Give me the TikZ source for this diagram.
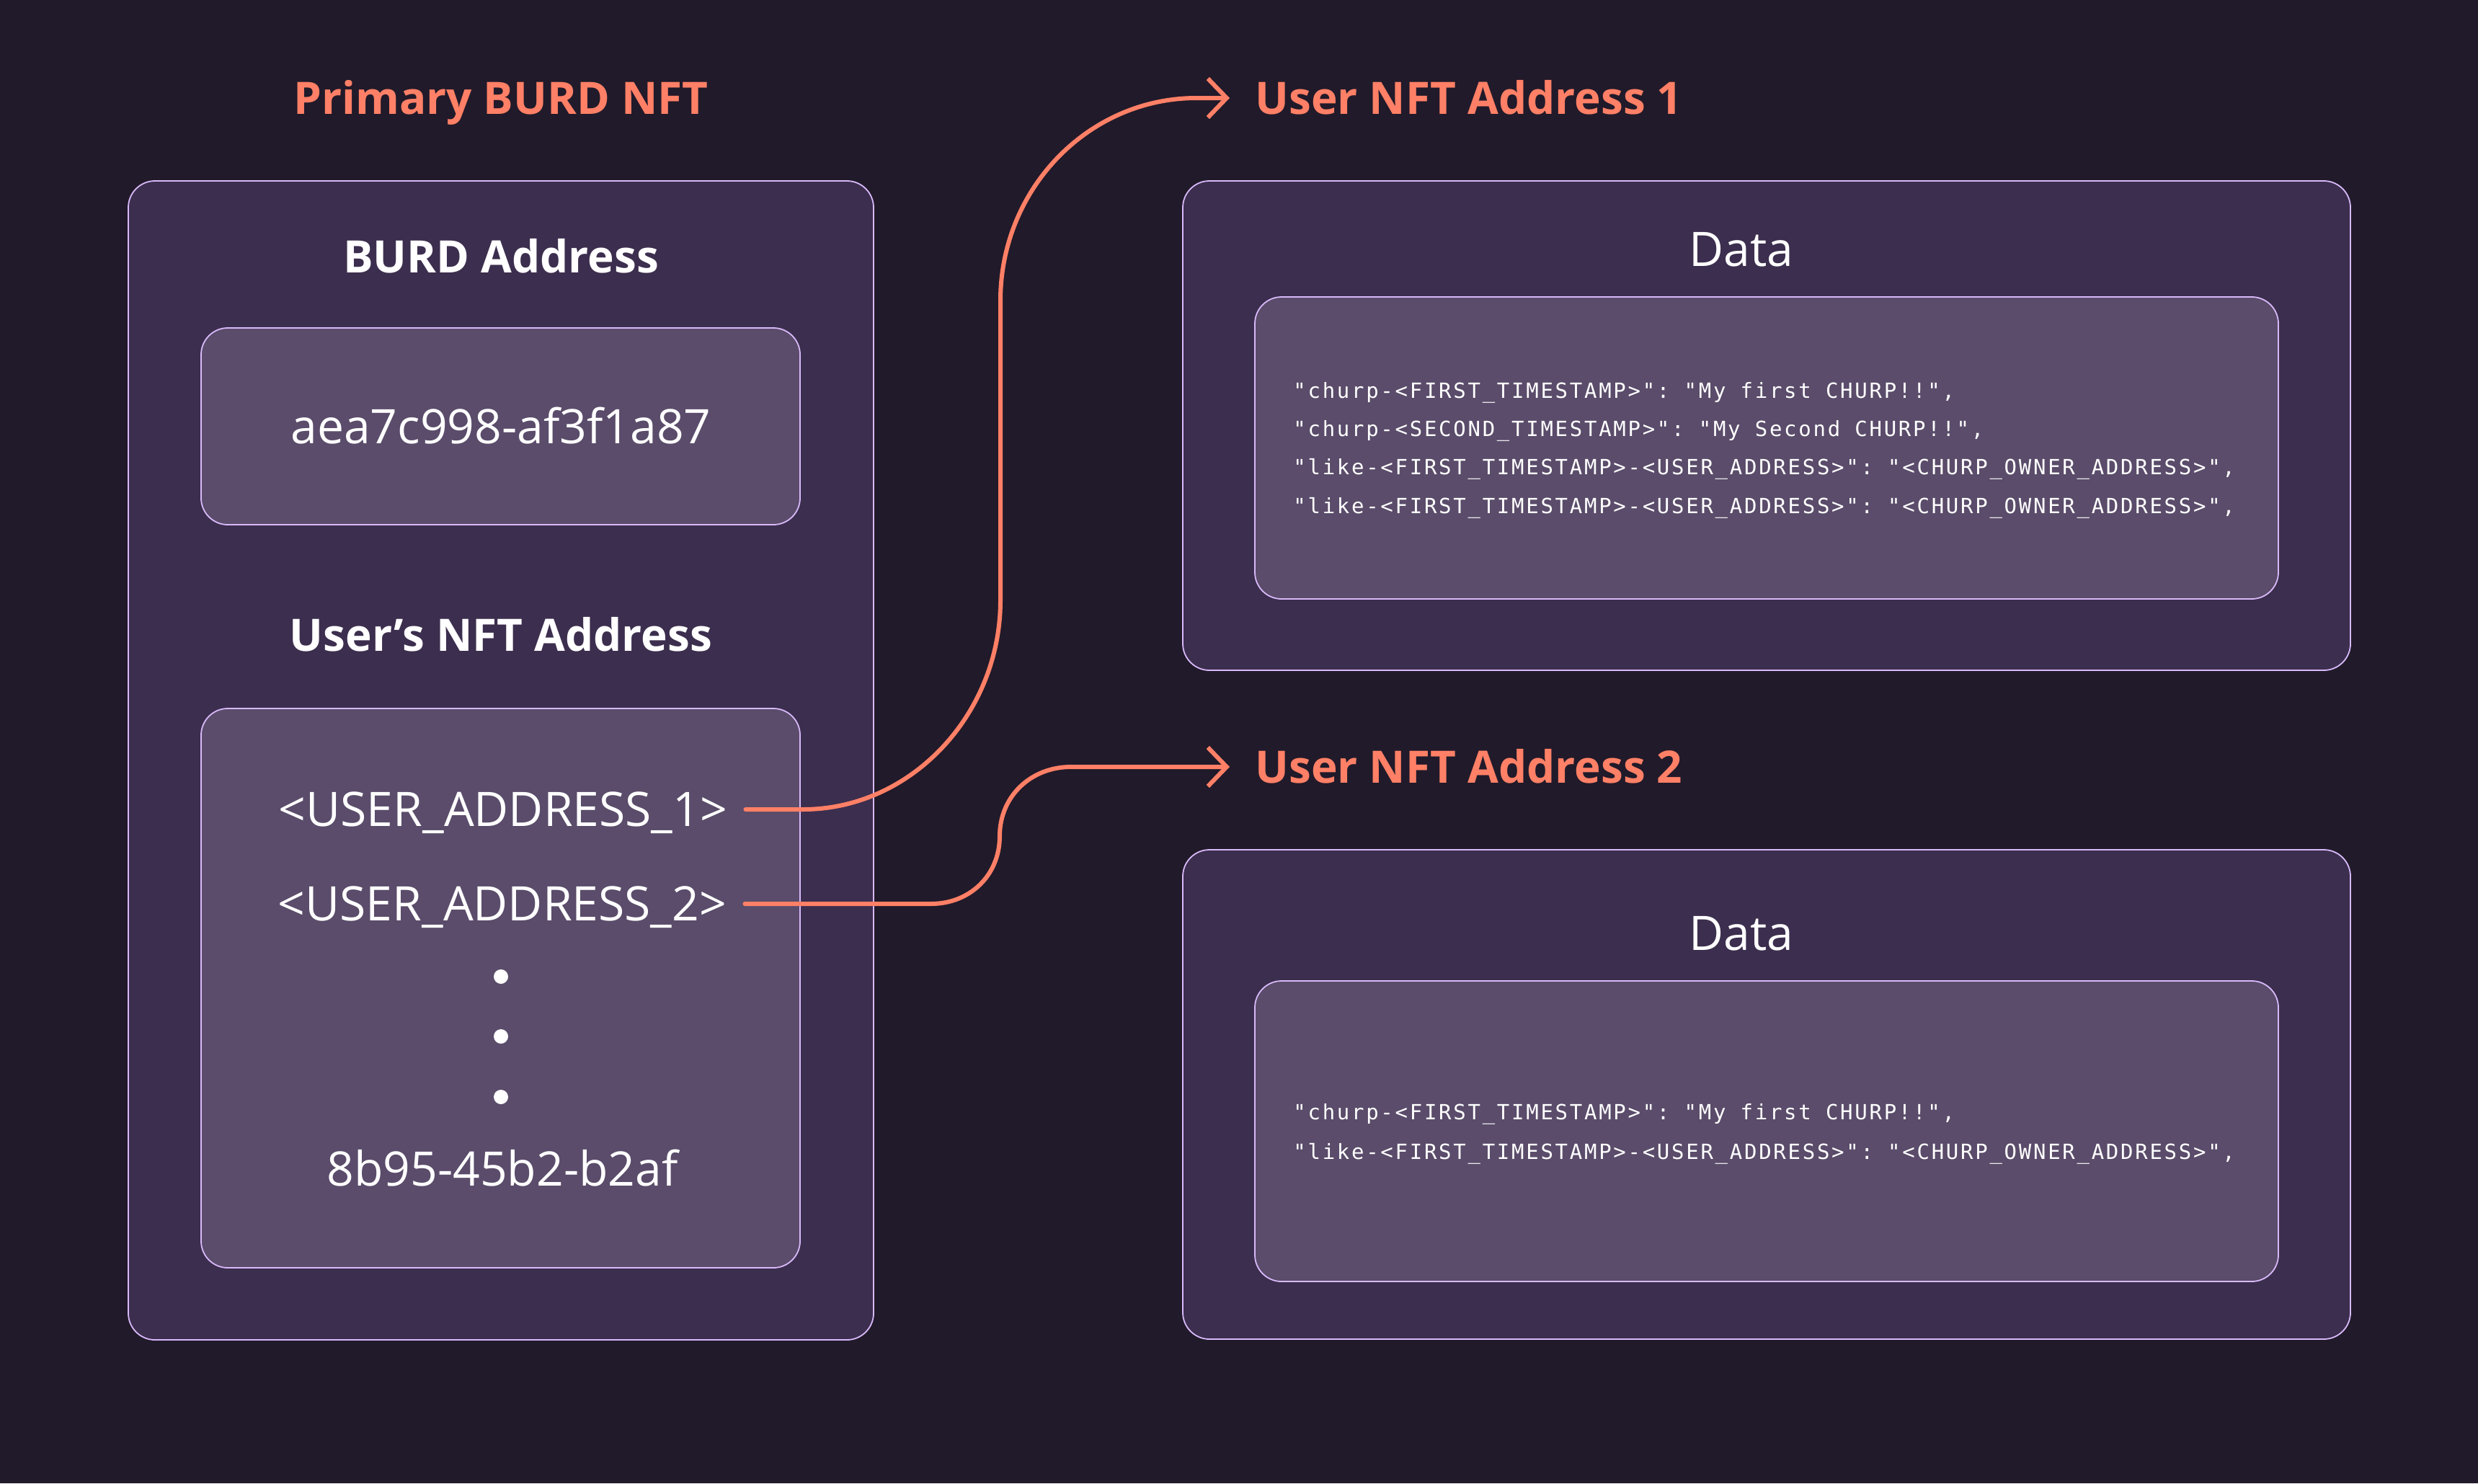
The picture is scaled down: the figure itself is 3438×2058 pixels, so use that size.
\documentclass[tikz,border=0pt]{standalone}
\usepackage{fontspec}
\setmainfont{Open Sans}
\setmonofont[LetterSpace=9.4]{DejaVu Sans Mono}
\usetikzlibrary{arrows.meta,calc}
\definecolor{bgdark}{HTML}{211A2A}
\definecolor{panel}{HTML}{3C2E4E}
\definecolor{card}{HTML}{5A4C6A}
\definecolor{edge}{HTML}{D8B9FA}
\definecolor{salmon}{HTML}{FF8066}

\begin{document}
\begin{tikzpicture}[x=0.5pt,y=-0.5pt,line cap=round,line join=round,
  outerbox/.style={draw=edge,fill=panel,line width=0.9pt,rounded corners=18.5pt},
  innerbox/.style={draw=edge,fill=card,line width=0.9pt,rounded corners=18.5pt},
  heading/.style={text=salmon,font=\bfseries\fontsize{31}{38}\selectfont,inner sep=0pt,text height=22pt,text depth=0pt},
  boxhead/.style={text=white,font=\bfseries\fontsize{31}{38}\selectfont,inner sep=0pt,text height=22pt,text depth=0pt},
  entry/.style={text=white,font=\fontsize{33}{40}\selectfont,inner sep=0pt,text height=23.5pt,text depth=0pt},
  codeline/.style={text=white,font=\ttfamily\fontsize{14.5}{17}\selectfont,inner sep=0pt,text height=10pt,text depth=0pt,anchor=west},
  link/.style={draw=salmon,line width=3pt,-{Straight Barb[length=13pt,width=27pt]}}]
\fill[bgdark] (0,0) rectangle (3438,2058);
\useasboundingbox (0,0) rectangle (3438,2058);
% primary nft
\draw[outerbox] (178,251) rectangle (1212,1859);
\draw[innerbox] (279,455) rectangle (1110,728);
\draw[innerbox] (279,983) rectangle (1110,1759);
\node[heading] (primary) at (695,136) {Primary BURD NFT};
\node[boxhead] (burdhead) at (695,356) {BURD Address};
\node[entry] (burdval) at (695,592) {aea7c998-af3f1a87};
\node[boxhead] (userhead) at (695,881) {User’s NFT Address};
\node[entry] (ua1) at (698,1123) {<USER\_ADDRESS\_1>};
\node[entry] (ua2) at (697,1254) {<USER\_ADDRESS\_2>};
\foreach \y in {1355,1438,1522}
  \fill[white] (695,\y) circle (5pt);
\node[entry] (ualast) at (697,1622) {8b95-45b2-b2af};
% user nft 1
\draw[outerbox] (1641,251) rectangle (3261,930);
\draw[innerbox] (1741,412) rectangle (3161,831);
\node[heading,anchor=west] (un1) at (1741,136) {User NFT Address 1};
\node[entry] (data1) at (2416,346) {Data};
\node[codeline] (c11) at (1794,542) {"churp-<FIRST\_TIMESTAMP>": "My first CHURP!!",};
\node[codeline] (c12) at (1794,595) {"churp-<SECOND\_TIMESTAMP>": "My Second CHURP!!",};
\node[codeline] (c13) at (1794,648) {"like-<FIRST\_TIMESTAMP>-<USER\_ADDRESS>": "<CHURP\_OWNER\_ADDRESS>",};
\node[codeline] (c14) at (1794,702) {"like-<FIRST\_TIMESTAMP>-<USER\_ADDRESS>": "<CHURP\_OWNER\_ADDRESS>",};
% user nft 2
\draw[outerbox] (1641,1179) rectangle (3261,1858);
\draw[innerbox] (1741,1361) rectangle (3161,1778);
\node[heading,anchor=west] (un2) at (1741,1064) {User NFT Address 2};
\node[entry] (data2) at (2416,1295) {Data};
\node[codeline] (c21) at (1794,1543) {"churp-<FIRST\_TIMESTAMP>": "My first CHURP!!",};
\node[codeline] (c22) at (1794,1598) {"like-<FIRST\_TIMESTAMP>-<USER\_ADDRESS>": "<CHURP\_OWNER\_ADDRESS>",};
% links
\draw[link] ($(ua1.east)+(25,0)$) -- (1114,1123)
  .. controls (1265,1123) and (1388,990) .. (1388,833) -- (1388,417)
  .. controls (1388,262) and (1510,136) .. (1660,136) -- ($(un1.west)+(-35,0)$);
\draw[link] ($(ua2.east)+(25,0)$) -- (1292,1254)
  .. controls (1345,1254) and (1387,1215) .. (1387,1160)
  .. controls (1387,1105) and (1430,1064) .. (1486,1064) -- ($(un2.west)+(-35,0)$);
\end{tikzpicture}
\end{document}
